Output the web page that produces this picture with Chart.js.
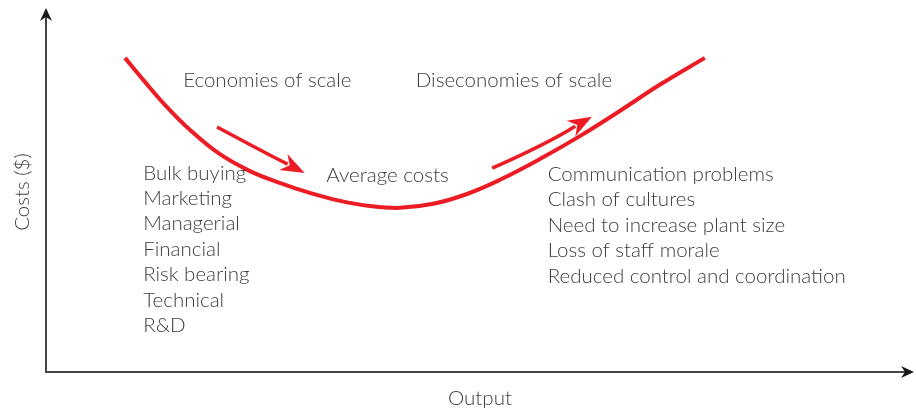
<!DOCTYPE html>
<html>
<head>
<meta charset="utf-8">
<script src="https://cdn.jsdelivr.net/npm/chart.js@4/dist/chart.umd.min.js"></script>
<style>
  html, body { margin: 0; padding: 0; background: #ffffff; }
  #wrap { width: 916px; height: 411px; position: relative; }
</style>
</head>
<body>
<div id="wrap"><canvas id="c" width="916" height="411"></canvas></div>
<script>
// ---- data (abstract units: output 0-100, cost 0-100) ----
const outputLevels = [9.1, 11.4, 13.7, 16.6, 20.0, 23.5, 27.0, 30.4, 33.9, 37.3, 40.8, 44.6, 48.5, 52.3, 56.9, 61.5, 66.1, 70.7, 75.9];
const averageCosts = [86.3, 79.7, 73.4, 66.5, 59.9, 55.2, 51.9, 49.2, 47.0, 45.6, 45.1, 46.2, 48.9, 52.8, 58.5, 64.8, 71.7, 78.9, 86.3];

const econArrowX = [19.7, 24.9, 29.8];
const econArrowY = [67.3, 60.7, 54.7];
const diseconArrowX = [51.4, 57.1, 62.9];
const diseconArrowY = [56.0, 62.4, 70.1];

const economiesTitle = 'Economies of scale';
const diseconomiesTitle = 'Diseconomies of scale';
const curveLabel = 'Average costs';
const economiesList = ['Bulk buying', 'Marketing', 'Managerial', 'Financial', 'Risk bearing', 'Technical', 'R&D'];
const diseconomiesList = ['Communication problems', 'Clash of cultures', 'Need to increase plant size', 'Loss of staff morale', 'Reduced control and coordination'];
const xAxisTitle = 'Output';
const yAxisTitle = 'Costs ($)';

// ---- styling / layout ----
const RED = '#ed1c24';
const TEXT = '#3c3c3c';
const FONT = '300 20.5px Lato, "Open Sans", sans-serif';
const textLayout = {
  econTitle: { x: 15.8, y: 80.2 },
  diseconTitle: { x: 42.6, y: 80.2 },
  curveLabel: { x: 32.3, y: 53.9 },
  econList: { x: 11.2, y: 54.7, step: 7.0 },
  diseconList: { x: 57.8, y: 54.4, step: 7.0 }
};

const curveData = outputLevels.map((x, i) => ({ x: x, y: averageCosts[i] }));

function drawArrow(ctx, pts, color) {
  const n = pts.length;
  const tip = pts[n - 1], prev = pts[n - 2];
  const ang = Math.atan2(tip.y - prev.y, tip.x - prev.x);
  const headLen = 24, headW = 9;
  const base = { x: tip.x - Math.cos(ang) * headLen * 0.8, y: tip.y - Math.sin(ang) * headLen * 0.8 };
  ctx.save();
  ctx.strokeStyle = color; ctx.fillStyle = color;
  ctx.lineWidth = 3.5; ctx.lineCap = 'butt';
  ctx.beginPath();
  ctx.moveTo(pts[0].x, pts[0].y);
  const cx = 2 * pts[1].x - (pts[0].x + base.x) / 2;
  const cy = 2 * pts[1].y - (pts[0].y + base.y) / 2;
  ctx.quadraticCurveTo(cx, cy, base.x, base.y);
  ctx.stroke();
  ctx.beginPath();
  ctx.moveTo(tip.x, tip.y);
  ctx.lineTo(tip.x - Math.cos(ang) * headLen - Math.sin(ang) * headW, tip.y - Math.sin(ang) * headLen + Math.cos(ang) * headW);
  ctx.lineTo(tip.x - Math.cos(ang) * headLen * 0.7, tip.y - Math.sin(ang) * headLen * 0.7);
  ctx.lineTo(tip.x - Math.cos(ang) * headLen + Math.sin(ang) * headW, tip.y - Math.sin(ang) * headLen - Math.cos(ang) * headW);
  ctx.closePath();
  ctx.fill();
  ctx.restore();
}

function axisHead(ctx, x, y, dir) {
  const L = 13, W = 6, notch = 4;
  ctx.beginPath();
  if (dir === 'up') {
    ctx.moveTo(x, y);
    ctx.lineTo(x - W, y + L);
    ctx.lineTo(x, y + L - notch);
    ctx.lineTo(x + W, y + L);
  } else {
    ctx.moveTo(x, y);
    ctx.lineTo(x - L, y - W);
    ctx.lineTo(x - L + notch, y);
    ctx.lineTo(x - L, y + W);
  }
  ctx.closePath();
  ctx.fill();
}

const decorPlugin = {
  id: 'decor',
  afterDatasetsDraw(chart) {
    const ctx = chart.ctx;
    const xs = chart.scales.x, ys = chart.scales.y;
    const ca = chart.chartArea;
    const px = v => xs.getPixelForValue(v);
    const py = v => ys.getPixelForValue(v);

    ctx.save();
    ctx.strokeStyle = '#444'; ctx.fillStyle = '#1a1a1a'; ctx.lineWidth = 2;
    const ox = px(0), oy = py(0);
    ctx.beginPath();
    ctx.moveTo(ox, oy); ctx.lineTo(ox, py(100) + 6);
    ctx.moveTo(ox - 1, oy); ctx.lineTo(px(100) - 6, oy);
    ctx.stroke();
    axisHead(ctx, ox, py(100), 'up');
    axisHead(ctx, px(100), oy, 'right');
    ctx.restore();

    drawArrow(ctx, econArrowX.map((v, i) => ({ x: px(v), y: py(econArrowY[i]) })), RED);
    drawArrow(ctx, diseconArrowX.map((v, i) => ({ x: px(v), y: py(diseconArrowY[i]) })), RED);

    ctx.save();
    ctx.fillStyle = TEXT;
    ctx.font = FONT;
    ctx.textBaseline = 'middle';
    ctx.textAlign = 'left';
    const T = textLayout;
    ctx.fillText(economiesTitle, px(T.econTitle.x), py(T.econTitle.y));
    ctx.fillText(diseconomiesTitle, px(T.diseconTitle.x), py(T.diseconTitle.y));
    ctx.fillText(curveLabel, px(T.curveLabel.x), py(T.curveLabel.y));
    economiesList.forEach((t, i) => ctx.fillText(t, px(T.econList.x), py(T.econList.y - i * T.econList.step)));
    diseconomiesList.forEach((t, i) => ctx.fillText(t, px(T.diseconList.x), py(T.diseconList.y - i * T.diseconList.step)));
    ctx.textAlign = 'center';
    ctx.fillText(xAxisTitle, (ca.left + ca.right) / 2, 398);
    ctx.translate(22, 192);
    ctx.rotate(-Math.PI / 2);
    ctx.fillText(yAxisTitle, 0, 0);
    ctx.restore();
  }
};

new Chart(document.getElementById('c'), {
  type: 'line',
  data: {
    datasets: [{
      label: curveLabel,
      data: curveData,
      borderColor: RED,
      borderWidth: 4,
      pointRadius: 0,
      fill: false,
      tension: 0.4,
      borderCapStyle: 'butt'
    }]
  },
  options: {
    responsive: false,
    animation: false,
    devicePixelRatio: 1,
    layout: { padding: { left: 46, top: 8, right: 2, bottom: 39 } },
    plugins: { legend: { display: false }, tooltip: { enabled: false } },
    scales: {
      x: { type: 'linear', min: 0, max: 100, display: false },
      y: { type: 'linear', min: 0, max: 100, display: false }
    }
  },
  plugins: [decorPlugin]
});
</script>
</body>
</html>
